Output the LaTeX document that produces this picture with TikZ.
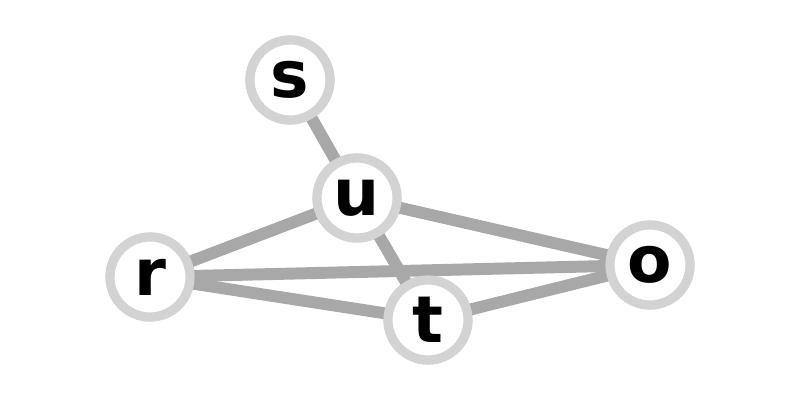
\documentclass[tikz,border=0pt]{standalone}
\usepackage{fontspec}
\setmainfont{DejaVu Sans}
\usetikzlibrary{positioning}

\definecolor{ringgray}{HTML}{D3D3D3}
\definecolor{linkgray}{HTML}{A8A8A8}

\begin{document}
\begin{tikzpicture}[
  vertex/.style={circle,draw=ringgray,line width=6.5pt,fill=white,minimum size=2cm,
    inner sep=0pt,font=\fontsize{46}{46}\selectfont\bfseries},
  link/.style={draw=linkgray,line width=8.5pt}
]
  \useasboundingbox (0,0) rectangle (20,10);
  \node[vertex] (s) at (7.25,8.0) {s};
  \node[vertex] (u) at (8.925,5.05) {u};
  \node[vertex] (r) at (3.75,3.075) {r};
  \node[vertex] (t) at (10.7,2.0) {t};
  \node[vertex] (o) at (16.25,3.375) {o};
  \path[link] (s.center) -- (u.center);
  \path[link] (u.center) -- (r.center);
  \path[link] (u.center) -- (o.center);
  \path[link] (u.center) -- (t.center);
  \path[link] (r.center) -- (o.center);
  \path[link] (r.center) -- (t.center);
  \path[link] (t.center) -- (o.center);
  % redraw the nodes on top of the links
  \node[vertex] at (s) {s};
  \node[vertex] at (u) {u};
  \node[vertex] at (r) {r};
  \node[vertex] at (t) {t};
  \node[vertex] at (o) {o};
\end{tikzpicture}
\end{document}
